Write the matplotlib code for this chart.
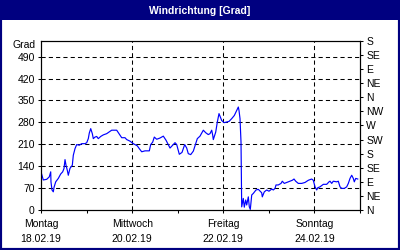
import matplotlib
matplotlib.use('Agg')
import matplotlib.pyplot as plt
import matplotlib.transforms as mtrans
from matplotlib.patches import Rectangle

plt.rcParams['font.family'] = ['Liberation Sans', 'DejaVu Sans']

# ---- data (time in days since Mo 18.02.19 00:00, wind direction in degrees) ----
days = [0.000, 0.050, 0.125, 0.182, 0.213, 0.219, 0.241, 0.270, 0.285, 0.323,
        0.380, 0.432, 0.476, 0.505, 0.527, 0.549, 0.577, 0.599, 0.636, 0.687,
        0.709, 0.746, 0.783, 0.840, 0.893, 0.966, 1.003, 1.038, 1.060, 1.091,
        1.126, 1.148, 1.185, 1.222, 1.257, 1.310, 1.367, 1.442, 1.551, 1.661,
        1.712, 1.771, 1.843, 1.881, 1.953, 2.025, 2.113, 2.157, 2.210, 2.282,
        2.377, 2.407, 2.451, 2.486, 2.539, 2.611, 2.684, 2.743, 2.831, 2.941,
        2.978, 3.035, 3.094, 3.153, 3.197, 3.232, 3.285, 3.342, 3.395, 3.430,
        3.489, 3.562, 3.614, 3.671, 3.709, 3.746, 3.768, 3.781, 3.834, 3.869,
        3.906, 3.935, 3.965, 4.016, 4.075, 4.125, 4.185, 4.242, 4.294, 4.330,
        4.345, 4.367, 4.389, 4.400, 4.404, 4.439, 4.461, 4.492, 4.514, 4.549,
        4.571, 4.593, 4.624, 4.659, 4.718, 4.769, 4.843, 4.856, 4.900, 4.953,
        5.003, 5.063, 5.098, 5.135, 5.157, 5.207, 5.267, 5.295, 5.339, 5.392,
        5.427, 5.464, 5.515, 5.552, 5.589, 5.646, 5.721, 5.793, 5.866, 5.940,
        5.975, 6.013, 6.050, 6.072, 6.122, 6.195, 6.269, 6.320, 6.342, 6.379,
        6.414, 6.489, 6.524, 6.561, 6.599, 6.656, 6.708, 6.744, 6.781, 6.818,
        6.853, 6.875, 6.906, 6.950]
degrees = [122, 96, 98, 106, 122, 90, 64, 58, 72, 90,
           101, 115, 122, 133, 161, 143, 127, 111, 133, 143,
           175, 196, 209, 207, 212, 212, 215, 228, 246, 260,
           244, 228, 233, 235, 228, 235, 240, 244, 255, 255,
           244, 231, 231, 225, 220, 212, 205, 196, 186, 189,
           189, 209, 217, 233, 226, 230, 236, 223, 198, 215,
           209, 178, 184, 209, 198, 180, 177, 188, 212, 228,
           236, 255, 247, 241, 244, 255, 239, 225, 249, 281,
           308, 297, 286, 279, 281, 283, 292, 302, 318, 329,
           318, 292, 217, 80, 10, 37, 9, 32, 16, 42,
           10, 2, 48, 53, 64, 66, 55, 42, 58, 64,
           60, 67, 64, 69, 80, 80, 85, 92, 85, 88,
           90, 92, 95, 99, 92, 85, 85, 88, 95, 99,
           95, 74, 64, 71, 74, 82, 82, 90, 92, 85,
           92, 90, 92, 74, 69, 69, 74, 85, 101, 111,
           101, 90, 101, 99]

day_ticks = [0, 2, 4, 6]
minor_day_ticks = [1, 3, 5, 7]
day_names = ['Montag', 'Mittwoch', 'Freitag', 'Sonntag']
date_labels = ['18.02.19', '20.02.19', '22.02.19', '24.02.19']
grad_ticks = [0, 70, 140, 210, 280, 350, 420, 490]
compass_ticks = [0, 45, 90, 135, 180, 225, 270, 315, 360, 405, 450, 495, 540]
compass_labels = ['N', 'NE', 'E', 'SE', 'S', 'SW', 'W', 'NW', 'N', 'NE', 'E', 'SE', 'S']

W, H = 400, 250
fig = plt.figure(figsize=(4, 2.5), dpi=100, facecolor='white')
navy = '#000080'
fs = 7.5

# title bar
fig.patches.append(Rectangle((0, 1 - 20 / H), 1, 20 / H, transform=fig.transFigure,
                             facecolor=navy, edgecolor='none', zorder=0))
fig.text(0.5, 1 - 10.5 / H, 'Windrichtung [Grad]', color='white', fontsize=fs,
         fontweight='bold', ha='center', va='center')
# outer border
fig.patches.append(Rectangle((0, 0), 1, 1, transform=fig.transFigure,
                             facecolor='none', edgecolor=navy, linewidth=3, zorder=5))

left, right, bottom, top = 41, 360, 210, 41
ax = fig.add_axes([left / W, 1 - bottom / H, (right - left) / W, (bottom - top) / H])
ax.set_facecolor('white')
ax.plot(days, degrees, color='#0000ff', linewidth=0.85, zorder=3)
ax.set_xlim(0, 7)
ax.set_ylim(0, 540)

ax.set_yticks(grad_ticks)
ax.set_yticklabels([str(v) for v in grad_ticks], fontsize=fs)
ax.set_xticks(day_ticks)
ax.set_xticks(minor_day_ticks, minor=True)
ax.set_xticklabels([])
ax.tick_params(axis='y', length=2, width=0.75, pad=2.5, colors='black')
ax.tick_params(axis='x', which='both', length=2.5, width=0.75, direction='out')

for v in grad_ticks[1:]:
    ax.axhline(v, color='black', linewidth=0.75, linestyle=(0, (4, 3)), zorder=2)
for d in day_ticks[1:]:
    ax.axvline(d, color='black', linewidth=0.75, linestyle=(0, (4, 3)), zorder=2)

for s in ax.spines.values():
    s.set_linewidth(0.8)
    s.set_color('black')

ax2 = ax.twinx()
ax2.set_ylim(0, 540)
ax2.set_yticks(compass_ticks)
ax2.set_yticklabels(compass_labels, fontsize=fs)
ax2.tick_params(axis='y', length=2.5, width=0.75, pad=2, colors='black')
for s in ax2.spines.values():
    s.set_linewidth(0.8)

fig.text(36 / W, 1 - 45 / H, 'Grad', fontsize=fs, ha='right', va='center')

trans = mtrans.blended_transform_factory(ax.transData, fig.transFigure)
for d, n, dt in zip(day_ticks, day_names, date_labels):
    ax.text(d, 1 - 224 / H, n, transform=trans, fontsize=fs, ha='center', va='center')
    ax.text(d, 1 - 239.5 / H, dt, transform=trans, fontsize=fs, ha='center', va='center')

fig.savefig('out.png', dpi=100, facecolor='white')
